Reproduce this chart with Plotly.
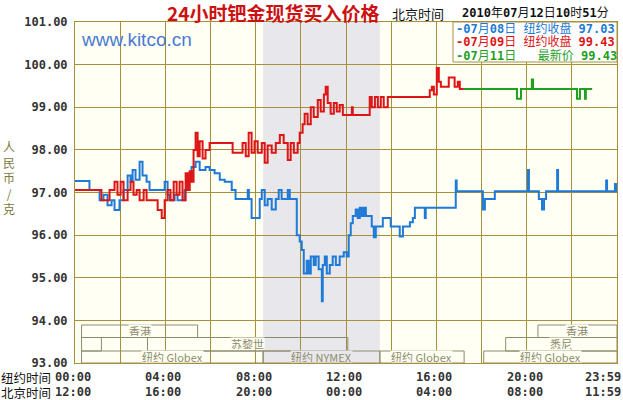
import plotly.graph_objects as go

# ---------------- data ----------------
# hours in New York time (0-24), prices in RMB/gram
blue_hours = [0.0, 0.64, 1.09, 1.26, 1.44, 1.62, 1.75, 1.97, 2.15, 2.33, 2.46, 2.55, 2.68, 2.86, 2.99,
              3.17, 3.30, 3.97, 4.10, 4.19, 4.41, 4.54, 4.85, 4.99, 5.16, 5.34, 5.52, 5.78, 5.96, 6.18,
              6.41, 6.63, 6.94, 7.11, 7.65, 7.70, 7.82, 8.18, 8.27, 8.40, 8.53, 8.71, 8.89, 9.02, 9.15,
              9.42, 9.51, 9.82, 9.95, 10.04, 10.13, 10.26, 10.35, 10.44, 10.57, 10.66, 10.79, 10.93,
              10.97, 11.06, 11.15, 11.28, 11.41, 11.55, 11.72, 11.90, 12.03, 12.12, 12.21, 12.30, 12.43,
              12.52, 12.61, 12.70, 12.79, 12.88, 13.14, 13.23, 13.32, 13.63, 13.98, 14.38, 14.52, 14.83,
              14.96, 15.05, 15.49, 15.53, 16.86, 16.90, 18.06, 18.15, 18.59, 20.06, 20.10, 20.54, 20.68,
              20.77, 20.86, 21.35, 21.39, 23.52, 23.56, 23.91, 23.96, 24.0]
blue_values = [97.27, 97.06, 96.82, 96.95, 96.70, 96.82, 96.59, 96.82, 97.06, 97.40, 97.25, 97.53, 97.30, 97.72, 97.40,
               97.25, 97.06, 97.25, 96.95, 96.82, 96.95, 96.82, 97.06, 97.30, 97.60, 97.72, 97.53, 97.60, 97.53, 97.45,
               97.30, 97.25, 97.06, 96.85, 97.06, 96.85, 96.40, 96.85, 97.06, 96.70, 96.85, 96.60, 96.85, 97.06, 96.85,
               97.06, 96.85, 96.00, 95.85, 95.65, 95.10, 95.40, 95.10, 95.50, 95.30, 95.50, 95.20, 94.45,
               95.30, 95.50, 95.10, 95.30, 95.50, 95.30, 95.50, 95.60, 95.50, 96.00, 96.28, 96.45, 96.60,
               96.40, 96.64, 96.45, 96.64, 96.45, 96.20, 95.95, 96.20, 96.40, 96.20, 95.97, 96.20, 96.30,
               96.40, 96.64, 96.40, 96.64, 97.28, 97.03, 96.60, 96.85, 97.03, 97.53, 97.03, 96.85, 96.60,
               96.85, 97.03, 97.53, 97.03, 97.28, 97.03, 97.20, 97.03, 97.03]

red_hours = [0.00, 1.17, 1.53, 1.75, 1.88, 2.02, 2.15, 2.33, 2.46, 2.59, 2.73, 2.86, 3.04, 3.17, 3.66, 3.84,
             3.97, 4.10, 4.23, 4.37, 4.50, 4.63, 4.76, 4.90, 4.99, 5.08, 5.16, 5.25, 5.34, 5.43, 5.52, 5.65,
             5.78, 5.96, 6.98, 7.42, 7.56, 7.69, 7.82, 7.95, 8.09, 8.27, 8.40, 8.53, 8.71, 8.89, 9.07, 9.24,
             9.42, 9.55, 9.69, 9.86, 9.95, 10.08, 10.17, 10.30, 10.44, 10.57, 10.75, 10.88, 11.02, 11.10,
             11.19, 11.32, 11.46, 11.59, 11.72, 11.86, 12.26, 12.30, 13.05, 13.14, 13.28, 13.41, 13.54,
             13.67, 13.85, 15.71, 15.80, 15.89, 16.02, 16.11, 16.20, 16.55, 16.81, 16.95, 17.04, 17.22]
red_values = [97.06, 96.82, 97.06, 97.25, 96.95, 97.25, 96.82, 97.06, 97.25, 96.95, 97.06, 96.82, 97.06, 96.82, 96.59, 96.40,
              96.82, 97.06, 96.82, 97.25, 96.95, 97.25, 96.82, 97.45, 97.06, 97.50, 97.25, 98.00, 98.40, 97.85, 98.20, 97.80,
              98.00, 98.16, 97.93, 98.16, 97.85, 98.40, 97.93, 98.20, 97.93, 98.16, 97.70, 98.10, 97.93, 98.16, 98.35, 98.16,
              97.76, 98.16, 97.93, 98.16, 98.40, 98.60, 98.85, 98.60, 99.00, 98.77, 99.17, 98.90, 99.30, 99.48,
              99.10, 98.85, 99.10, 98.90, 99.05, 98.82, 99.00, 98.82, 99.24, 99.00, 99.24, 99.00, 99.24,
              99.00, 99.24, 99.40, 99.48, 99.30, 99.92, 99.60, 99.48, 99.70, 99.48, 99.60, 99.43, 99.43]

green_hours = [17.22, 19.57, 19.75, 20.23, 20.28, 22.23, 22.36, 22.58, 22.62, 22.90]
green_values = [99.43, 99.20, 99.43, 99.65, 99.43, 99.20, 99.43, 99.20, 99.43, 99.43]

series_names = ["07月08日 纽约收盘", "07月09日 纽约收盘", "07月11日 最新价"]
series_colors = ["#1e7ad6", "#dd1515", "#1fa01f"]
legend_dates = ["07月08日", "07月09日", "07月11日"]
legend_kinds = ["纽约收盘", "纽约收盘", "  最新价"]
legend_prices = ["97.03", "99.43", "99.43"]

# market sessions (New York hours) shown in the lower band
market_names = ["香港", "香港", "悉尼", "苏黎世", "悉尼", "纽约 Globex", "纽约 NYMEX", "纽约 Globex", "纽约 Globex"]
market_start = [0.29, 20.50, 0.29, 3.21, 19.07, 0.29, 8.33, 13.50, 18.10]
market_end = [5.43, 24.00, 1.17, 12.08, 24.00, 8.33, 13.50, 17.23, 24.00]
market_lane = [0, 0, 1, 1, 1, 2, 2, 2, 2]
nymex_start, nymex_end = 8.33, 13.50

tick_hours = [0, 4, 8, 12, 16, 20, 24]
ny_labels = ["00:00", "04:00", "08:00", "12:00", "16:00", "20:00", "23:59"]
bj_labels = ["12:00", "16:00", "20:00", "00:00", "04:00", "08:00", "11:59"]
y_ticks = [93, 94, 95, 96, 97, 98, 99, 100, 101]

# ---------------- geometry helpers ----------------
W, H = 623, 400
PL, PR, PT, PB = 75, 617, 22, 363
Y0, Y1 = 93, 101
GRID = "#a8903a"
PLOT_BG = "#fffff3"
SHADE = "#e8e8ec"
MKT = "#8c8c6e"
MONO = "DejaVu Sans Mono, Noto Sans CJK SC"
CJK = "Noto Sans CJK SC"


def xp(px):
    return (px - PL) / (PR - PL)


def yp(py):
    return (PB - py) / (PB - PT)


def yv(py):
    return Y1 - (py - PT) / (PB - PT) * (Y1 - Y0)


fig = go.Figure()
for hrs, vals, col, nm in [(blue_hours, blue_values, series_colors[0], series_names[0]),
                           (red_hours, red_values, series_colors[1], series_names[1]),
                           (green_hours, green_values, series_colors[2], series_names[2])]:
    fig.add_trace(go.Scatter(x=hrs, y=vals, mode="lines", name=nm,
                             line=dict(color=col, width=2, shape="hv"), hoverinfo="x+y"))

shapes = []
annotations = []

# NYMEX shaded period
shapes.append(dict(type="rect", xref="x", yref="paper", x0=nymex_start, x1=nymex_end, y0=0, y1=1,
                   fillcolor=SHADE, line=dict(width=0), layer="below"))

# market session boxes
lane_top = [325, 337.5, 351]
lane_bot = [337.5, 351, 363]
for nm, s, e, ln in zip(market_names, market_start, market_end, market_lane):
    shapes.append(dict(type="rect", xref="x", yref="y", x0=s, x1=e, y0=yv(lane_bot[ln]), y1=yv(lane_top[ln]),
                       line=dict(color=MKT, width=1), fillcolor="rgba(0,0,0,0)", layer="above"))
for nm, s, e, ln in zip(market_names, market_start, market_end, market_lane):
    if e - s < 2:
        continue
    c = (s + e) / 2
    bg = SHADE if (nymex_start <= c <= nymex_end) else PLOT_BG
    annotations.append(dict(x=c, y=yv(lane_top[ln] + 5.5), xref="x", yref="y", text=nm, showarrow=False,
                            font=dict(family=CJK, size=11, color=MKT), bgcolor=bg, borderpad=0, height=11,
                            xanchor="center", yanchor="middle"))

# legend box
shapes.append(dict(type="rect", xref="paper", yref="paper", x0=xp(453), x1=xp(617), y0=yp(62), y1=yp(22),
                   fillcolor="white", line=dict(color=GRID, width=1), layer="above"))
for i in range(3):
    txt = "<b>-%s</b>%s<b>%s</b>%s %s <b>%s</b>" % (
        legend_dates[i][:2], legend_dates[i][2], legend_dates[i][3:5], legend_dates[i][5],
        legend_kinds[i], legend_prices[i])
    annotations.append(dict(x=xp(455), y=yp(29 + 13 * i), xref="paper", yref="paper", text=txt, showarrow=False,
                            xanchor="left", yanchor="middle", borderpad=0,
                            font=dict(family=MONO, size=12, color=series_colors[i])))

# title & header texts
annotations.append(dict(x=xp(273), y=yp(12.5), xref="paper", yref="paper", text="24小时钯金现货买入价格",
                        showarrow=False, xanchor="center", yanchor="middle", borderpad=0,
                        font=dict(family=CJK, size=19, color="#cc1111", weight="bold")))
annotations.append(dict(x=xp(418), y=yp(13), xref="paper", yref="paper", text="北京时间",
                        showarrow=False, xanchor="center", yanchor="middle", borderpad=0,
                        font=dict(family=CJK, size=13, color="#111111")))
annotations.append(dict(x=xp(461), y=yp(13), xref="paper", yref="paper",
                        text="<b>2010</b>年<b>07</b>月<b>12</b>日<b>10</b>时<b>51</b>分",
                        showarrow=False, xanchor="left", yanchor="middle", borderpad=0,
                        font=dict(family=MONO, size=12, color="#111111")))
annotations.append(dict(x=xp(79), y=yp(40), xref="paper", yref="paper", text="www.kitco.cn",
                        showarrow=False, xanchor="left", yanchor="middle",
                        font=dict(family="Liberation Sans", size=19, color="#4a7ad4")))

# y-axis title, stacked characters
annotations.append(dict(x=xp(9), y=yp(177), xref="paper", yref="paper", text="<br>".join("人民币/克"),
                        showarrow=False, xanchor="center", yanchor="middle",
                        font=dict(family=CJK, size=12, color="#7a7a3e")))

# x-axis two-row labels
annotations.append(dict(x=xp(0), y=yp(377), xref="paper", yref="paper", text="纽约时间", showarrow=False,
                        xanchor="left", yanchor="middle", borderpad=0, height=14,
                        font=dict(family=CJK, size=12.5, color="#111111")))
annotations.append(dict(x=xp(0), y=yp(392), xref="paper", yref="paper", text="北京时间", showarrow=False,
                        xanchor="left", yanchor="middle", borderpad=0, height=14,
                        font=dict(family=CJK, size=12.5, color="#111111")))
for h, a, b in zip(tick_hours, ny_labels, bj_labels):
    last = h == tick_hours[-1]
    for lab, py in [(a, 377), (b, 392)]:
        annotations.append(dict(x=h, y=yp(py), xref="x", yref="paper", text=lab, showarrow=False,
                                xanchor="right" if last else "center", xshift=5 if last else -2,
                                yanchor="middle", borderpad=0, height=14,
                                font=dict(family="DejaVu Sans Mono", size=12, color="#333333", weight="bold")))

fig.update_layout(
    width=W, height=H, autosize=False,
    margin=dict(l=PL, r=W - PR, t=PT, b=H - PB, pad=0),
    paper_bgcolor="white", plot_bgcolor=PLOT_BG,
    showlegend=False,
    shapes=shapes, annotations=annotations,
    xaxis=dict(range=[0, 24], tickvals=list(range(0, 25, 2)), showticklabels=False, ticks="",
               showgrid=True, gridcolor=GRID, gridwidth=1, showline=True, linecolor=GRID, linewidth=1,
               mirror=True, zeroline=False, fixedrange=True),
    yaxis=dict(range=[Y0, Y1], tickvals=y_ticks, tickformat=".2f", ticks="",
               tickfont=dict(family="DejaVu Sans Mono", size=12, color="#333333", weight="bold"),
               showgrid=True, gridcolor=GRID, gridwidth=1, showline=True, linecolor=GRID, linewidth=1,
               mirror=True, zeroline=False, fixedrange=True, ticklabelstandoff=4),
)

fig.write_html("out.html", config={"displayModeBar": False},
               post_script="document.body.style.margin='0px';document.body.style.overflow='hidden';")
